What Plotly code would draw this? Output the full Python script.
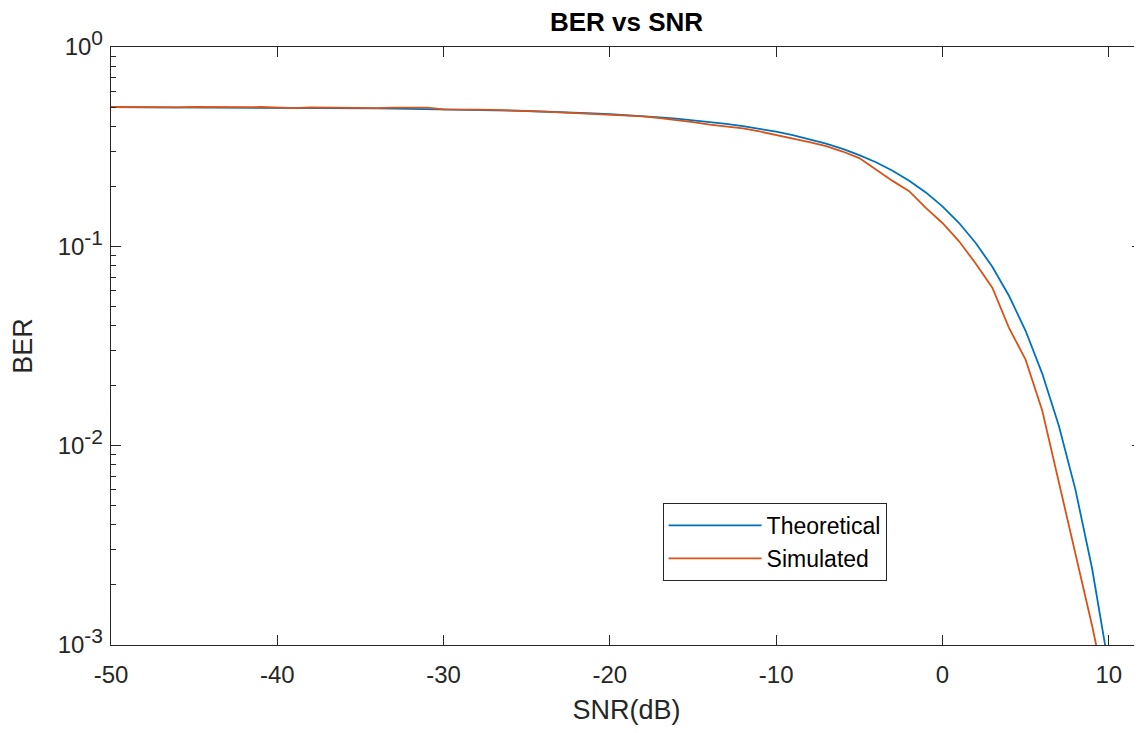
import plotly.graph_objects as go

snr_db = list(range(-50, 11))

ber_theoretical = [
    0.49874, 0.49858, 0.49841, 0.49822, 0.49800, 0.49776, 0.49748, 0.49718, 0.49683, 0.49645,
    0.49601, 0.49552, 0.49498, 0.49437, 0.49368, 0.49291, 0.49204, 0.49107, 0.48998, 0.48876,
    0.48739, 0.48585, 0.48412, 0.48219, 0.48001, 0.47758, 0.47485, 0.47178, 0.46835, 0.46449,
    0.46017, 0.45533, 0.44991, 0.44382, 0.43704, 0.42944, 0.42095, 0.41143, 0.40084, 0.38905,
    0.37593, 0.36137, 0.34528, 0.32755, 0.30810, 0.28696, 0.26400, 0.23950, 0.21350, 0.18640,
    0.15870, 0.13090, 0.10400, 0.07890, 0.05650, 0.03770, 0.02300, 0.01260, 0.00600, 0.00242,
    0.00078,
]

ber_simulated = [
    0.500, 0.499, 0.501, 0.500, 0.498, 0.501, 0.499, 0.497, 0.499, 0.500,
    0.497, 0.494, 0.498, 0.497, 0.495, 0.493, 0.494, 0.497, 0.499, 0.497,
    0.486, 0.487, 0.485, 0.484, 0.482, 0.479, 0.474, 0.470, 0.466, 0.462,
    0.458, 0.454, 0.449, 0.440, 0.431, 0.420, 0.408, 0.400, 0.391, 0.377,
    0.362, 0.348, 0.333, 0.318, 0.299, 0.277, 0.243, 0.213, 0.189, 0.156,
    0.131, 0.106, 0.082, 0.062, 0.039, 0.027, 0.0150, 0.0066, 0.0029, 0.00125,
    0.00050,
]

y_tick_vals = [1, 0.1, 0.01, 0.001]
y_tick_exponents = ["0", "-1", "-2", "-3"]
x_tick_vals = [-50, -40, -30, -20, -10, 0, 10]
x_tick_text = ["-50", "-40", "-30", "-20", "-10", "0", "10"]

y_tick_text = ["10<sup><span style='font-size:21px'>%s</span></sup>" % e for e in y_tick_exponents]
minor_vals = [m * 10 ** e for e in (-3, -2, -1) for m in range(2, 10)]

axis_color = "#262626"
font_family = "Liberation Sans, Arial, Helvetica, sans-serif"

fig = go.Figure()
fig.add_trace(go.Scatter(x=snr_db, y=ber_theoretical, mode="lines", name="Theoretical",
                         line=dict(color="#0072BD", width=1.8)))
fig.add_trace(go.Scatter(x=snr_db, y=ber_simulated, mode="lines", name="Simulated",
                         line=dict(color="#D95319", width=1.8)))

fig.update_layout(
    width=1134, height=717,
    margin=dict(l=103, r=0, t=39, b=80, autoexpand=False),
    paper_bgcolor="white", plot_bgcolor="white",
    font=dict(family=font_family, size=24, color=axis_color),
    title=dict(text="<b>BER vs SNR</b>", x=0.5, xref="paper", xanchor="center",
               y=1 - 14 / 717, yref="container", yanchor="middle",
               font=dict(size=26, color="#000000")),
    showlegend=True,
    legend=dict(x=0.535, y=0.2375, xanchor="left", yanchor="top",
                bgcolor="white", bordercolor=axis_color, borderwidth=1,
                font=dict(size=23, color="#000000"), itemwidth=93,
                tracegroupgap=0),
)

fig.update_xaxes(
    range=[-50, 12], tickvals=x_tick_vals, ticktext=x_tick_text,
    ticks="inside", ticklen=10, tickwidth=1, tickcolor=axis_color,
    showline=True, linecolor=axis_color, linewidth=1.3, mirror="allticks",
    showgrid=False, zeroline=False, automargin=False,
    ticklabelstandoff=8,
    title=dict(text="SNR(dB)", font=dict(size=27), standoff=14),
    tickfont=dict(size=24),
)
fig.update_yaxes(
    type="log", range=[-3, 0], tickvals=y_tick_vals, ticktext=y_tick_text,
    ticks="inside", ticklen=10, tickwidth=1, tickcolor=axis_color,
    showline=True, linecolor=axis_color, linewidth=1.3, mirror="allticks",
    showgrid=False, zeroline=False, automargin=False,
    ticklabelstandoff=2,
    minor=dict(tickvals=minor_vals, ticks="inside", ticklen=5, tickcolor=axis_color, showgrid=False),
    title=dict(text="BER", font=dict(size=27), standoff=19),
    tickfont=dict(size=24),
)

fig.write_html("out.html")
